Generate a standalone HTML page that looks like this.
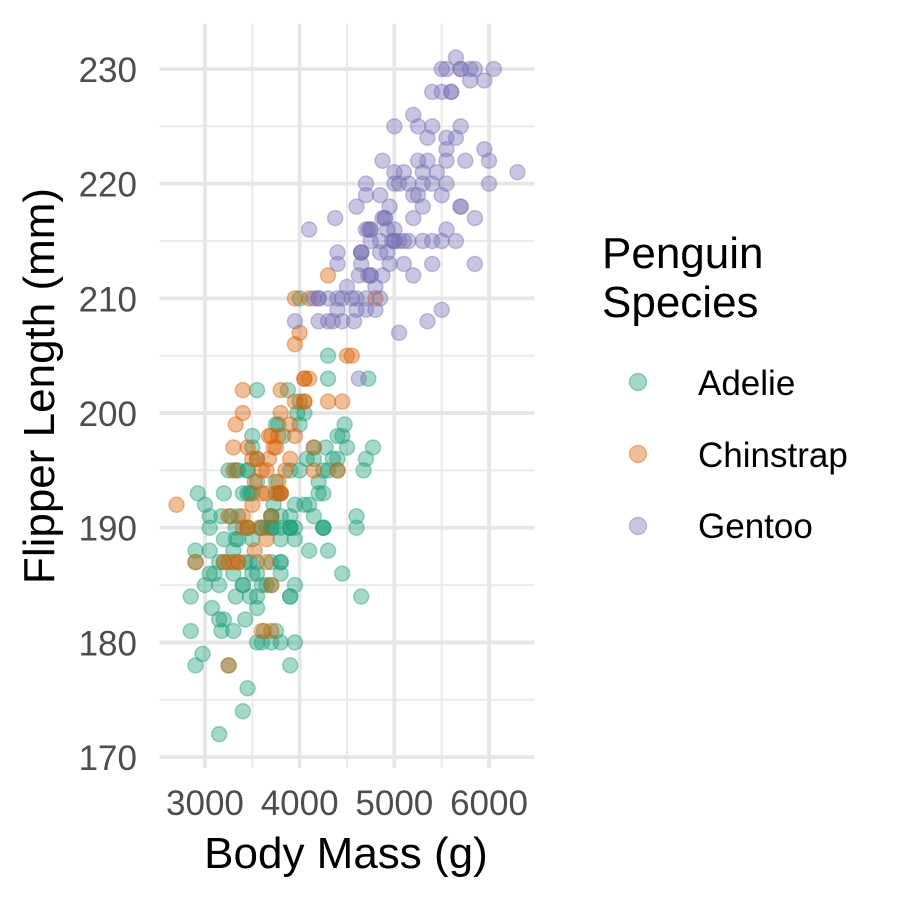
<!DOCTYPE html>
<html><head><meta charset="utf-8"><style>
body{margin:0;background:#fff;}
svg text{font-family:"Liberation Sans",Arial,sans-serif;}
</style></head><body>
<svg id="chart" width="900" height="900">
<g id="grid"></g>
<g id="points"></g>
<g id="axes"></g>
<text x="346" y="868" font-size="44" text-anchor="middle" fill="#000">Body Mass (g)</text>
<text transform="translate(54,386) rotate(-90)" font-size="44" text-anchor="middle" fill="#000">Flipper Length (mm)</text>
<g>
<text x="602" y="268" font-size="44" fill="#000">Penguin</text>
<text x="602" y="317" font-size="44" fill="#000">Species</text>
<g><circle cx="638" cy="382" r="8.5" fill="#1b9e77" fill-opacity="0.4" stroke="#1b9e77" stroke-opacity="0.4" stroke-width="1.5"/><text x="698" y="395" font-size="35">Adelie</text></g>
<g><circle cx="638" cy="454" r="8.5" fill="#d95f02" fill-opacity="0.4" stroke="#d95f02" stroke-opacity="0.4" stroke-width="1.5"/><text x="698" y="467" font-size="35">Chinstrap</text></g>
<g><circle cx="638" cy="526" r="8.5" fill="#7570b3" fill-opacity="0.4" stroke="#7570b3" stroke-opacity="0.4" stroke-width="1.5"/><text x="698" y="538" font-size="35">Gentoo</text></g>
</g>
</svg>
<script>
const xTicks=[3000,4000,5000,6000];
const xMinor=[3500,4500,5500];
const yTicks=[170,180,190,200,210,220,230];
const yMinor=[175,185,195,205,215,225];
const speciesNames=["Adelie","Chinstrap","Gentoo"];
const speciesColors=["#1b9e77","#d95f02","#7570b3"];
const adelieMass=[3750,3800,3250,3450,3650,3625,4675,3475,4250,3300,3700,3200,3800,4400,3700,3450,4500,3325,4200,3400,3600,3800,3950,3800,3800,3550,3200,3150,3950,3250,3900,3300,3900,3325,4150,3950,3550,3300,4650,3150,3900,3100,4400,3000,4600,3425,2975,3450,4150,3500,4300,3450,4050,2900,3700,3550,3800,2850,3750,3150,4400,3600,4050,2850,3950,3350,4100,3050,4450,3600,3900,3550,4150,3700,4250,3700,3900,3550,4000,3200,4700,3800,4200,3350,3550,3800,3500,3950,3600,3550,4300,3400,4450,3300,4300,3700,4350,2900,4100,3725,4725,3075,4250,2925,3550,3750,3900,3175,4775,3825,4600,3200,4275,3900,4075,2900,3775,3350,3325,3150,3500,3450,3875,3050,4000,3275,4300,3050,4000,3325,3500,3500,4475,3425,3900,3175,3975,3400,4250,3400,3475,3050,3725,3000,3650,4250,3475,3450,3750,3700,4000];
const adelieFlipper=[181,186,195,193,190,181,195,193,190,186,180,182,191,198,185,195,197,184,194,174,180,189,185,180,187,183,187,172,180,178,178,188,184,195,196,190,180,181,184,182,195,186,196,185,190,182,179,190,191,186,188,190,200,187,191,186,193,181,194,185,195,185,192,184,192,195,188,190,198,190,190,196,197,190,195,191,184,187,195,189,196,187,193,191,194,190,189,189,190,202,205,185,186,187,203,190,196,178,192,192,203,183,190,193,184,199,190,181,197,198,191,193,197,191,196,188,199,189,189,187,198,176,202,186,199,191,195,191,210,190,197,193,199,187,190,191,200,185,193,193,187,188,190,192,185,190,184,195,193,187,201];
const chinstrapMass=[3500,3900,3650,3525,3725,3950,3250,3750,4150,3700,3800,3775,3700,4050,3575,4050,3300,3700,3450,4400,3600,3400,2900,3800,3300,4150,3400,3800,3700,4550,3200,4300,3350,4100,3600,3900,3850,4800,2700,4500,3950,3650,3550,3500,3675,4450,3400,4300,3250,3675,3325,3950,3600,4050,3350,3450,3250,4050,3800,3525,3950,3650,3650,4000,3400,3775,4100,3775];
const chinstrapFlipper=[192,196,193,188,197,198,178,197,195,198,193,194,185,201,190,201,197,181,190,195,181,191,187,193,195,197,200,200,191,205,187,201,187,203,195,199,195,210,192,205,210,187,196,196,196,201,190,212,187,198,199,201,193,203,187,197,191,203,202,194,206,189,195,207,202,193,210,198];
const gentooMass=[4500,5700,4450,5700,5400,4550,4800,5200,4400,5150,4650,5550,4650,5850,4200,5850,4150,6300,4800,5350,5700,5000,4400,5050,5000,5100,4100,5650,4600,5550,5250,4700,5050,6050,5150,5400,4950,5250,4350,5350,3950,5700,4300,4750,5550,4900,4200,5400,5100,5300,4850,5300,4400,5000,4900,5050,4300,5000,4450,5550,4200,5300,4400,5650,4700,5700,4650,5800,4700,5550,4750,5000,5100,5200,4700,5800,4600,6000,4750,5950,4625,5450,4725,5350,4750,5600,4600,5300,4875,5550,4950,5400,4750,5650,4850,5200,4925,4875,4625,5250,4850,5600,4975,5500,4725,5500,4700,5500,4575,5500,5000,5950,4650,5500,4375,5850,4875,6000,4925,4850,5750,5200,5400];
const gentooFlipper=[211,230,210,218,215,210,211,219,209,215,214,216,214,213,210,217,210,221,209,222,218,215,213,215,215,215,216,215,210,220,222,209,207,230,220,220,213,219,208,208,208,225,210,216,222,217,210,225,213,215,210,220,210,225,217,220,208,220,208,224,208,221,214,231,219,230,214,229,220,223,216,221,221,217,216,230,209,220,215,223,212,221,212,224,212,228,218,218,212,230,218,228,212,224,214,226,216,222,203,225,219,228,215,228,216,215,210,219,208,209,216,229,213,230,217,230,217,222,214,215,222,212,213];

const NS="http://www.w3.org/2000/svg";
const xMin=2520,xMax=6480,yMin=169.05,yMax=233.95;
const L=159.5,R=534.5,T=23.7,B=768;
const xS=v=>L+(v-xMin)/(xMax-xMin)*(R-L);
const yS=v=>B-(v-yMin)/(yMax-yMin)*(B-T);
function mk(tag,attrs,parent){const e=document.createElementNS(NS,tag);for(const k in attrs)e.setAttribute(k,attrs[k]);parent.appendChild(e);return e;}
const grid=document.getElementById('grid'),axes=document.getElementById('axes'),pts=document.getElementById('points');
xMinor.forEach(v=>{const l=mk('line',{x1:xS(v),x2:xS(v),y1:T,y2:B,stroke:'#ebebeb','stroke-width':2},grid);

});
yMinor.forEach(v=>{const l=mk('line',{x1:L,x2:R,y1:yS(v),y2:yS(v),stroke:'#ebebeb','stroke-width':2},grid);

});
xTicks.forEach(v=>{const l=mk('line',{x1:xS(v),x2:xS(v),y1:T,y2:B,stroke:'#e6e6e6','stroke-width':3.8},grid);


const t=mk('text',{x:xS(v),y:815,'font-size':35,'text-anchor':'middle',fill:'#4d4d4d'},axes);t.textContent=v;

});
yTicks.forEach(v=>{const l=mk('line',{x1:L,x2:R,y1:yS(v),y2:yS(v),stroke:'#e6e6e6','stroke-width':3.8},grid);


const t=mk('text',{x:137,y:yS(v)+13,'font-size':35,'text-anchor':'end',fill:'#4d4d4d'},axes);t.textContent=v;

});
const series=[[adelieMass,adelieFlipper],[chinstrapMass,chinstrapFlipper],[gentooMass,gentooFlipper]];
series.forEach((s,i)=>{const c=speciesColors[i];
s[0].forEach((m,j)=>{const p=mk('circle',{cx:xS(m),cy:yS(s[1][j]),r:7.5,fill:c,'fill-opacity':0.4,stroke:c,'stroke-opacity':0.4,'stroke-width':1.5},pts);

});});
</script>
</body></html>
